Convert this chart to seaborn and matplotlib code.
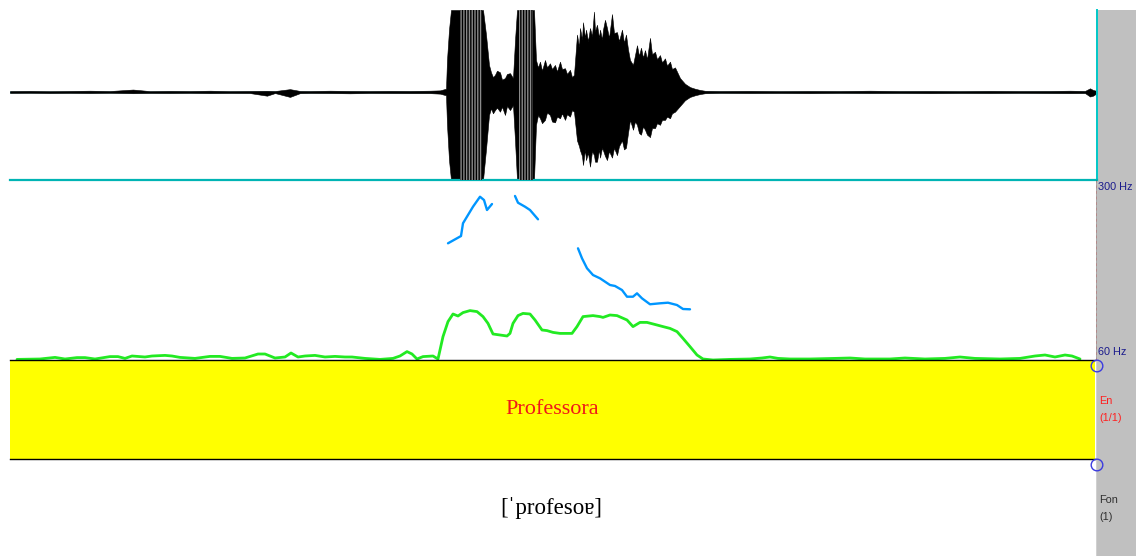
import numpy as np
import pandas as pd
import matplotlib
matplotlib.use("Agg")
import matplotlib.pyplot as plt
import seaborn as sns

# ---------------------------------------------------------------- data
# waveform envelope: time in ms, normalised amplitude (rails at +1.0 / -1.073)
wave_ms = [0, 20, 40, 60, 80, 100, 123, 140, 160, 180,
           200, 220, 240, 257, 265, 280, 290, 300, 320, 340,
           360, 380, 400, 420, 430, 436, 437, 439, 441, 473,
           476, 479, 481, 483, 485, 487, 490, 492, 495, 497,
           500, 503, 505, 507, 524, 526, 528, 530, 532, 535,
           537, 540, 542, 545, 547, 550, 552, 555, 557, 560,
           562, 564, 567, 569, 570, 572, 573, 575, 576, 578,
           580, 582, 584, 585, 587, 589, 590, 592, 593, 595,
           597, 599, 602, 604, 607, 609, 612, 614, 616, 618,
           620, 623, 625, 627, 629, 631, 633, 635, 637, 640,
           642, 645, 647, 650, 652, 655, 657, 660, 662, 665,
           670, 675, 680, 685, 690, 695, 710, 740, 770, 800,
           830, 860, 890, 920, 950, 980, 1010, 1040, 1060, 1075,
           1080, 1083, 1087]
wave_up = [0.012, 0.014, 0.010, 0.013, 0.016, 0.012, 0.030, 0.011, 0.014, 0.012,
           0.016, 0.011, 0.013, 0.015, 0.012, 0.035, 0.013, 0.012, 0.016, 0.013,
           0.012, 0.014, 0.013, 0.016, 0.020, 0.040, 0.390, 0.760, 1.000, 1.000,
           0.700, 0.330, 0.240, 0.180, 0.210, 0.260, 0.240, 0.150, 0.170, 0.220,
           0.230, 0.170, 0.630, 1.000, 1.000, 0.390, 0.300, 0.370, 0.260, 0.390,
           0.300, 0.350, 0.280, 0.330, 0.250, 0.370, 0.280, 0.290, 0.220, 0.270,
           0.180, 0.210, 0.700, 0.550, 0.780, 0.640, 0.850, 0.660, 0.760, 0.620,
           0.780, 0.680, 0.980, 0.740, 0.820, 0.660, 0.760, 0.640, 0.760, 0.880,
           0.780, 0.660, 0.950, 0.720, 0.730, 0.620, 0.760, 0.600, 0.700, 0.520,
           0.390, 0.330, 0.450, 0.570, 0.440, 0.540, 0.420, 0.510, 0.400, 0.660,
           0.460, 0.490, 0.400, 0.450, 0.360, 0.410, 0.320, 0.370, 0.280, 0.300,
           0.170, 0.100, 0.060, 0.040, 0.025, 0.015, 0.012, 0.014, 0.011, 0.013,
           0.012, 0.016, 0.012, 0.013, 0.011, 0.014, 0.012, 0.013, 0.016, 0.013,
           0.045, 0.025, 0.013]
wave_lo = [-0.012, -0.010, -0.013, -0.011, -0.013, -0.010, -0.015, -0.012, -0.013, -0.011,
           -0.014, -0.012, -0.013, -0.045, -0.013, -0.060, -0.014, -0.012, -0.013, -0.016,
           -0.012, -0.013, -0.014, -0.014, -0.020, -0.040, -0.400, -0.830, -1.073, -1.073,
           -0.700, -0.280, -0.200, -0.260, -0.220, -0.190, -0.240, -0.180, -0.280, -0.170,
           -0.220, -0.160, -0.590, -1.073, -1.073, -0.400, -0.280, -0.320, -0.380, -0.340,
           -0.250, -0.280, -0.360, -0.370, -0.300, -0.320, -0.260, -0.340, -0.270, -0.300,
           -0.220, -0.240, -0.590, -0.660, -0.710, -0.780, -0.890, -0.700, -0.830, -0.740,
           -0.910, -0.720, -0.770, -0.850, -0.850, -0.700, -0.800, -0.680, -0.710, -0.780,
           -0.830, -0.720, -0.800, -0.680, -0.770, -0.660, -0.590, -0.700, -0.680, -0.500,
           -0.340, -0.460, -0.360, -0.400, -0.500, -0.520, -0.420, -0.460, -0.520, -0.550,
           -0.440, -0.440, -0.380, -0.400, -0.340, -0.340, -0.300, -0.320, -0.260, -0.240,
           -0.170, -0.100, -0.060, -0.040, -0.025, -0.015, -0.011, -0.013, -0.012, -0.014,
           -0.011, -0.013, -0.012, -0.014, -0.012, -0.013, -0.011, -0.013, -0.014, -0.013,
           -0.055, -0.045, -0.013]
# stretches where the signal is clipped at both rails (ms)
clip_spans = [(450, 472), (509, 523)]

# F0 contour (Hz), three voiced stretches
f0_seg = [1] * 8 + [2] * 5 + [3] * 18
f0_t = [0.438, 0.451, 0.453, 0.463, 0.470, 0.474, 0.477, 0.482,
        0.505, 0.508, 0.515, 0.520, 0.528,
        0.568, 0.572, 0.577, 0.583, 0.590, 0.600, 0.605, 0.612, 0.617, 0.623,
        0.627, 0.632, 0.640, 0.650, 0.658, 0.667, 0.673, 0.680]
f0_hz = [215.6, 225.3, 242.3, 264.4, 277.7, 273.3, 260.0, 268.0,
         278.7, 269.7, 264.4, 260.0, 247.6,
         208.9, 195.6, 182.3, 173.3, 168.9, 160.0, 158.7, 153.3, 144.4, 144.4,
         148.9, 142.2, 134.3, 135.6, 136.4, 133.3, 128.0, 127.6]

# intensity curve (relative dB)
int_t = [0.007, 0.030, 0.045, 0.055, 0.067, 0.075, 0.085, 0.100, 0.108, 0.115,
         0.122, 0.135, 0.142, 0.155, 0.162, 0.170, 0.185, 0.200, 0.210, 0.222,
         0.235, 0.248, 0.255, 0.265, 0.275, 0.281, 0.288, 0.295, 0.305, 0.315,
         0.325, 0.335, 0.342, 0.355, 0.370, 0.383, 0.390, 0.397, 0.402, 0.407,
         0.413, 0.423, 0.428, 0.433, 0.438, 0.443, 0.448, 0.453, 0.460, 0.467,
         0.473, 0.478, 0.483, 0.490, 0.497, 0.500, 0.503, 0.508, 0.513, 0.520,
         0.525, 0.532, 0.537, 0.543, 0.550, 0.562, 0.567, 0.573, 0.583, 0.590,
         0.593, 0.600, 0.607, 0.617, 0.623, 0.630, 0.637, 0.647, 0.653, 0.660,
         0.667, 0.673, 0.680, 0.687, 0.693, 0.703, 0.720, 0.740, 0.752, 0.760,
         0.768, 0.780, 0.800, 0.825, 0.840, 0.855, 0.880, 0.895, 0.915, 0.935,
         0.950, 0.965, 0.990, 1.010, 1.025, 1.035, 1.045, 1.055, 1.062, 1.070]
int_db = [0.3, 0.5, 1.3, 0.5, 1.2, 1.2, 0.5, 1.7, 1.7, 0.8,
          2.0, 1.5, 2.0, 2.3, 2.0, 1.3, 0.8, 1.8, 1.8, 0.8,
          1.0, 3.0, 3.0, 1.0, 1.5, 3.5, 1.5, 2.0, 2.3, 1.5,
          1.8, 1.5, 1.5, 0.8, 0.3, 0.8, 2.0, 4.2, 3.0, 0.5,
          1.7, 2.0, 0.5, 11.7, 19.2, 23.0, 22.0, 23.7, 24.7, 24.2,
          21.7, 18.3, 13.0, 12.5, 12.0, 13.3, 18.3, 22.2, 23.3, 23.0,
          20.0, 15.0, 14.7, 13.8, 13.3, 13.3, 16.7, 21.7, 22.2, 21.7,
          21.3, 22.5, 22.2, 20.0, 16.7, 18.8, 18.8, 17.5, 16.7, 15.8,
          14.2, 10.8, 6.7, 2.5, 0.5, 0.0, 0.3, 0.5, 1.0, 1.5,
          0.8, 0.5, 0.5, 0.8, 1.0, 0.5, 0.5, 1.0, 0.5, 0.8,
          1.5, 0.8, 0.5, 0.8, 2.0, 2.5, 1.5, 2.5, 2.0, 0.5]

word_label = "Professora"
phon_label = "[ˈprofesoɐ]"
f0_range = (60, 300)
f0_ticklabels = ["300 Hz", "60 Hz"]
tier_names = [("En", "(1/1)"), ("Fon", "(1)")]

# ---------------------------------------------------------------- style
sns.set_style("white")
plt.rcParams["font.family"] = ["Liberation Sans", "DejaVu Sans"]
plt.rcParams["hatch.linewidth"] = 1.0

W, H = 1136, 556
fig = plt.figure(figsize=(W / 100, H / 100), dpi=100)
fig.patch.set_facecolor("white")


def box(x0, y0, x1, y1):
    """axes rectangle from pixel edges (origin top-left)"""
    return [x0 / W, 1 - y1 / H, (x1 - x0) / W, (y1 - y0) / H]


T_END = 1.087
X0, X1 = 10, 1097
wave_t = [m / 1000 for m in wave_ms]

# side strip
side = fig.add_axes(box(1096, 10, W, H))
side.set_facecolor("#c0c0c0")
side.set_xticks([]); side.set_yticks([])
for s in side.spines.values():
    s.set_visible(False)
side.axvline(0, color="#d4d4d4", lw=1.2)

# waveform panel
axw = fig.add_axes(box(X0, 10, X1, 180))
axw.set_xlim(0, T_END)
axw.set_ylim(-1.073, 1.0)
axw.axhline(0, color="#00b0b0", lw=1.0, zorder=1)
axw.fill_between(wave_t, wave_lo, wave_up, color="black", lw=0.4, zorder=2)
for a, b in clip_spans:
    axw.fill_between([a / 1000, b / 1000], [-1.073, -1.073], [1.0, 1.0],
                     facecolor="#8a8a8a", edgecolor="black", hatch="|" * 6,
                     lw=0, zorder=3)
axw.set_xticks([]); axw.set_yticks([])
for k in ("top", "left"):
    axw.spines[k].set_visible(False)
axw.spines["bottom"].set_color("#00b4b4")
axw.spines["bottom"].set_linewidth(1.6)
axw.spines["right"].set_color("#00c8c8")
axw.spines["right"].set_linewidth(1.4)
axw.set_facecolor("none")

# pitch / intensity panel
axp = fig.add_axes(box(X0, 180, X1, 360))
axp.set_facecolor("none")
axp.set_xlim(0, T_END)
axp.set_ylim(*f0_range)
axi = axp.twinx()
axi.set_ylim(0, 90)

df_int = pd.DataFrame({"t": int_t, "db": int_db})
sns.lineplot(data=df_int, x="t", y="db", ax=axi, color="#22ea22", lw=2.0,
             estimator=None, sort=False)
df_f0 = pd.DataFrame({"t": f0_t, "hz": f0_hz, "seg": f0_seg})
sns.lineplot(data=df_f0, x="t", y="hz", units="seg", estimator=None, ax=axp,
             color="#0096ff", lw=1.7, sort=False)
for ax in (axp, axi):
    ax.set_xlim(0, T_END)
    ax.set_xticks([]); ax.set_yticks([])
    ax.set_xlabel(""); ax.set_ylabel("")
    for s in ax.spines.values():
        s.set_visible(False)
axp.axvline(T_END, color="black", lw=1.0, ymin=0, ymax=1)
axp.axvline(T_END, color="#e01010", lw=1.0, ls=(0, (2, 2)))

# word tier
axt = fig.add_axes(box(X0, 360, 1095, 459))
axt.set_facecolor("#ffff00")
axt.set_xticks([]); axt.set_yticks([])
for k in ("left", "right"):
    axt.spines[k].set_visible(False)
for k in ("top", "bottom"):
    axt.spines[k].set_color("black")
    axt.spines[k].set_linewidth(1.0)
axt.text(0.5, 0.5, word_label, transform=axt.transAxes, ha="center", va="center",
         color="#f01818", fontsize=16, family=["Liberation Serif", "DejaVu Serif"])

# phonetic line
fig.text(551 / W, 1 - 508 / H, phon_label, ha="center", va="center",
         color="black", fontsize=16.5, family=["Liberation Serif", "DejaVu Serif"])

# labels on the side strip
fig.text(1098 / W, 1 - 187 / H, f0_ticklabels[0], ha="left", va="center",
         color="#1a1a8c", fontsize=7.8)
fig.text(1098 / W, 1 - 352 / H, f0_ticklabels[1], ha="left", va="center",
         color="#1a1a8c", fontsize=7.8)
fig.text(1099 / W, 1 - 401 / H, tier_names[0][0], ha="left", va="center",
         color="#ff2020", fontsize=7.8)
fig.text(1099 / W, 1 - 418 / H, tier_names[0][1], ha="left", va="center",
         color="#ff2020", fontsize=7.8)
fig.text(1099 / W, 1 - 500 / H, tier_names[1][0], ha="left", va="center",
         color="#303030", fontsize=7.8)
fig.text(1099 / W, 1 - 517 / H, tier_names[1][1], ha="left", va="center",
         color="#303030", fontsize=7.8)

# tier boundary handles
deco = fig.add_axes([0, 0, 1, 1])
deco.set_xlim(0, W); deco.set_ylim(H, 0)
deco.axis("off")
deco.set_facecolor("none")
deco.scatter([X1, X1], [366, 465], s=70, facecolors="none",
             edgecolors="#3a3ae0", linewidths=1.0, zorder=5)

fig.savefig("out.png", dpi=100)
